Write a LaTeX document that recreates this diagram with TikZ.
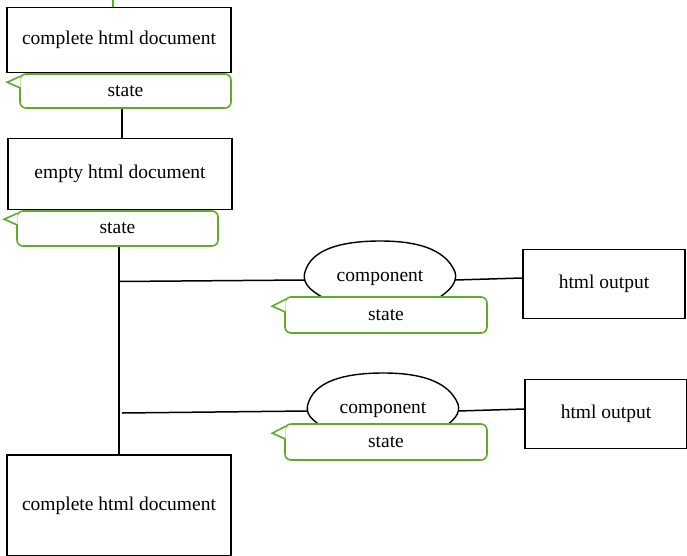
\documentclass[tikz,border=0pt]{standalone}
\usepackage{fontspec}
\setmainfont{Liberation Serif}
\usetikzlibrary{calc}
\definecolor{stategreen}{RGB}{96,170,44}
\begin{document}
\begin{tikzpicture}[x=1pt,y=-1pt,
  every node/.style={font=\fontsize{19.5}{22}\selectfont},
  docbox/.style={draw=black,line width=1.6pt,fill=white,inner sep=0pt},
  statebox/.style={draw=stategreen,line width=1.6pt,rounded corners=6pt,fill=white,inner sep=0pt},
  compnode/.style={inner sep=0pt,minimum width=150pt,minimum height=20pt},
  link/.style={draw=black,line width=1.5pt},
  blob/.style={draw=black,line width=1.4pt,fill=white},
  tail/.style={draw=stategreen,line width=1.6pt,fill=white,line join=miter}]
\useasboundingbox (0,0) rectangle (687,556);

% document boxes
\node[docbox,minimum width=224pt,minimum height=65pt] (doc1) at (119,40) {complete html document};
\node[docbox,minimum width=224pt,minimum height=71pt] (empty) at (120,174) {empty html document};
\node[docbox,minimum width=224pt,minimum height=101pt] (doc2) at (119,505.5) {complete html document};

% html output boxes
\node[docbox,minimum width=162pt,minimum height=69pt] (out1) at (604,284) {html output};
\node[docbox,minimum width=162pt,minimum height=69pt] (out2) at (606,414) {html output};

% components: a dome outline behind each label
\path[blob] (322,297) .. controls (310,290) and (300,282) .. (306,269)
  .. controls (315,246) and (350,241) .. (380,241)
  .. controls (415,241) and (445,248) .. (455,272)
  .. controls (458,282) and (450,290) .. (440,297);
\path[blob] (325,428) .. controls (313,421) and (303,414) .. (309,401)
  .. controls (318,378) and (353,373) .. (383,373)
  .. controls (418,373) and (448,380) .. (458,404)
  .. controls (461,414) and (453,421) .. (443,428);
\node[compnode] (comp1) at (380,278) {component};
\node[compnode] (comp2) at (383,410) {component};

% connectors
\coordinate (top) at (113,0);
\coordinate (spine) at (119,0);
\draw[stategreen,line width=1.6pt] (top) -- (doc1.north -| top);
\draw[link] (122,108) -- (empty.north -| 122,0);
\draw[link] (119,246) -- (doc2.north -| spine);
\draw[link] (119,281.5) -- ($(comp1.west)+(0,2)$);
\draw[link] (122,413) -- ($(comp2.west)+(0,1)$);
\draw[link] ($(comp1.east)+(0,2)$) -- (out1.west |- 0,278);
\draw[link] ($(comp2.east)+(0,1)$) -- (out2.west |- 0,409);

% state callouts
\node[statebox,minimum width=211pt,minimum height=34pt] (st1) at (125.5,91) {state};
\draw[tail] ($(st1.north west)+(1.5,3)$) -- ($(st1.north west)+(-12,9)$) -- ($(st1.north west)+(1.5,15)$);
\node[statebox,minimum width=201pt,minimum height=35pt] (st2) at (117.5,228.5) {state};
\draw[tail] ($(st2.north west)+(1.5,3)$) -- ($(st2.north west)+(-12,9)$) -- ($(st2.north west)+(1.5,15)$);
\node[statebox,minimum width=202pt,minimum height=36pt] (st3) at (386,315) {state};
\draw[tail] ($(st3.north west)+(1.5,3)$) -- ($(st3.north west)+(-12,10)$) -- ($(st3.north west)+(1.5,16)$);
\node[statebox,minimum width=202pt,minimum height=36pt] (st4) at (386,442) {state};
\draw[tail] ($(st4.north west)+(1.5,3)$) -- ($(st4.north west)+(-12,10)$) -- ($(st4.north west)+(1.5,16)$);
\end{tikzpicture}
\end{document}
